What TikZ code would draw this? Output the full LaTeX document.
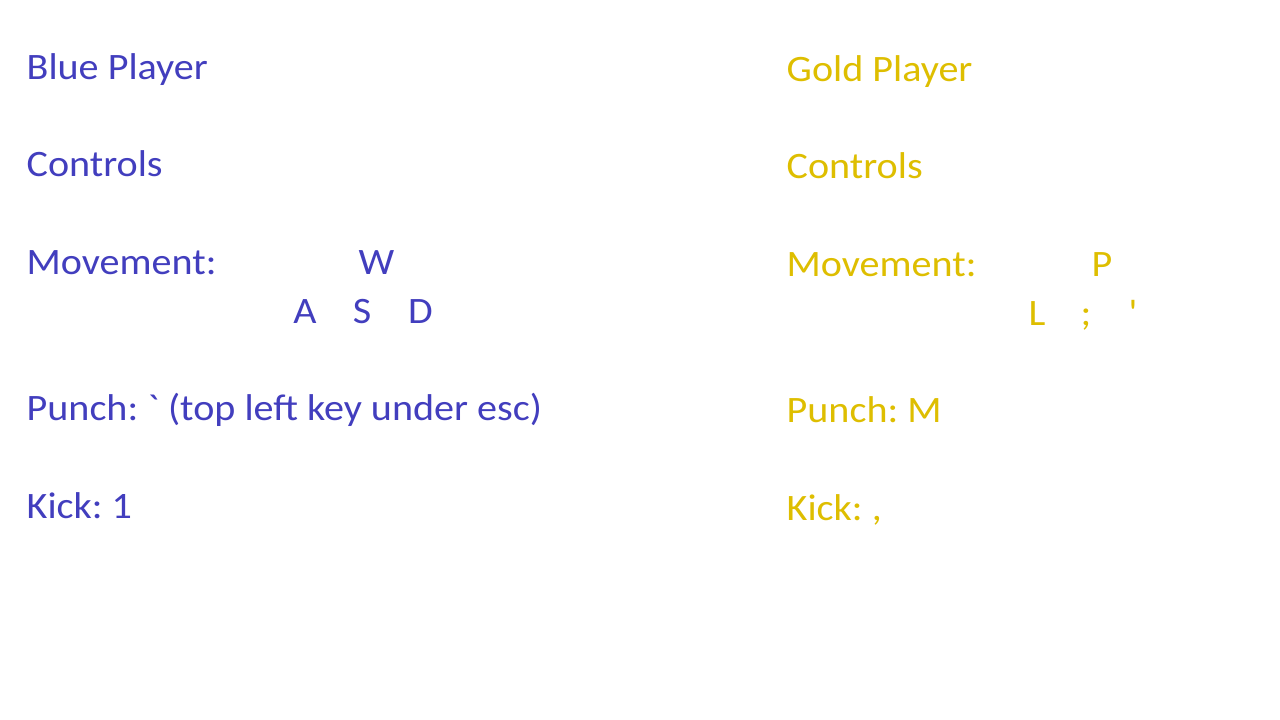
\documentclass[tikz,border=0pt]{standalone}
\usepackage{fontspec}
\newfontfamily\calfont{Carlito}[FakeStretch=1.075]
\definecolor{pblue}{RGB}{66,62,190}
\definecolor{pgold}{RGB}{222,190,0}
\begin{document}
\frenchspacing
\begin{tikzpicture}[x=1pt,y=-1pt,
  txt/.style={anchor=base west,inner sep=0pt,font=\calfont\fontsize{37.3}{44}\selectfont},
  key/.style={anchor=base,inner sep=0pt,font=\calfont\fontsize{37.3}{44}\selectfont},
  bl/.style={text=pblue},
  gd/.style={text=pgold}]
\useasboundingbox[fill=white] (0,0) rectangle (1280,720);
% Blue player
\node[txt,bl] (bt) at (26.5,79) {Blue Player};
\node[txt,bl] (bc) at (26.5,176.5) {Controls};
\node[txt,bl] (bm) at (26.5,274) {Movement:};
\node[key,bl] (bw) at (376.5,274) {W};
\node[key,bl] (ba) at (305,323) {A};
\node[key,bl] (bs) at (362,323) {S};
\node[key,bl] (bd) at (420.5,323) {D};
\node[txt,bl] (bp) at (26.5,420) {Punch: ` (top left key under esc)};
\node[txt,bl] (bk) at (26.5,518) {Kick: 1};
% Gold player
\node[txt,gd] (gt) at (786.5,81) {Gold Player};
\node[txt,gd] (gc) at (786.5,178.5) {Controls};
\node[txt,gd] (gm) at (786.5,276) {Movement:};
\node[key,gd] (gpk) at (1102,276) {P};
\node[key,gd] (gl) at (1037,325) {L};
\node[key,gd] (gs) at (1086,325) {;};
\node[key,gd] (gq) at (1133,325) {'};
\node[txt,gd] (gp) at (786.5,422) {Punch: M};
\node[txt,gd] (gk) at (786.5,520) {Kick: ,};
\end{tikzpicture}
\end{document}
